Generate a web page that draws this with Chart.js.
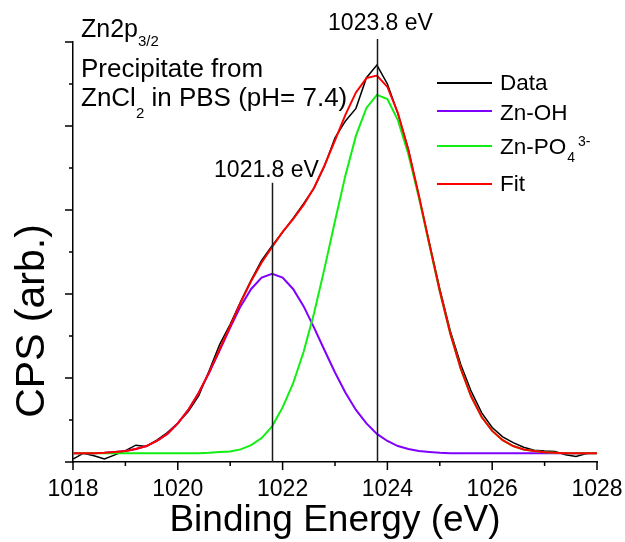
<!DOCTYPE html>
<html>
<head>
<meta charset="utf-8">
<script src="https://cdn.jsdelivr.net/npm/chart.js@4.4.0/dist/chart.umd.min.js"></script>
<style>
	html, body { margin: 0; padding: 0; background: #ffffff; }
	#wrap { position: relative; width: 625px; height: 542px; }
</style>
</head>
<body>
<div id="wrap"><canvas id="chart_xps"></canvas></div>
<script>
//Binding energy grid (eV)
const energy = [
	1018.0, 1018.2, 1018.4, 1018.6, 1018.8,
	1019.0, 1019.2, 1019.4, 1019.6, 1019.8,
	1020.0, 1020.2, 1020.4, 1020.6, 1020.8,
	1021.0, 1021.2, 1021.4, 1021.6, 1021.8,
	1022.0, 1022.2, 1022.4, 1022.6, 1022.8,
	1023.0, 1023.2, 1023.4, 1023.6, 1023.8,
	1024.0, 1024.2, 1024.4, 1024.6, 1024.8,
	1025.0, 1025.2, 1025.4, 1025.6, 1025.8,
	1026.0, 1026.2, 1026.4, 1026.6, 1026.8,
	1027.0, 1027.2, 1027.4, 1027.6, 1027.8,
	1028.0
];

//Measured counts (arb.)
const dataCps = [
	0.07, 0.21, 0.15, 0.07, 0.17,
	0.27, 0.40, 0.37, 0.52, 0.70,
	0.93, 1.20, 1.58, 2.18, 2.80,
	3.28, 3.82, 4.33, 4.80, 5.15,
	5.47, 5.80, 6.15, 6.52, 7.05,
	7.72, 8.12, 8.42, 9.15, 9.45,
	9.00, 8.30, 7.45, 6.33, 5.22,
	4.12, 3.12, 2.32, 1.68, 1.17,
	0.82, 0.60, 0.46, 0.35, 0.28,
	0.26, 0.25, 0.17, 0.13, 0.20,
	0.22
];

//Zn-OH component
const znOH = [
	0.21, 0.21, 0.21, 0.22, 0.24,
	0.26, 0.31, 0.38, 0.50, 0.67,
	0.92, 1.24, 1.65, 2.13, 2.66,
	3.20, 3.71, 4.12, 4.39, 4.48,
	4.39, 4.12, 3.71, 3.20, 2.66,
	2.13, 1.65, 1.24, 0.92, 0.67,
	0.50, 0.38, 0.31, 0.26, 0.24,
	0.22, 0.21, 0.21, 0.21, 0.21,
	0.21, 0.21, 0.21, 0.21, 0.21,
	0.21, 0.21, 0.21, 0.21, 0.21,
	0.21
];

//Zn-PO4 component
const znPO4 = [
	0.21, 0.21, 0.21, 0.21, 0.21,
	0.21, 0.21, 0.21, 0.21, 0.21,
	0.21, 0.21, 0.21, 0.22, 0.24,
	0.25, 0.30, 0.40, 0.57, 0.85,
	1.30, 1.87, 2.62, 3.54, 4.61,
	5.74, 6.83, 7.77, 8.43, 8.74,
	8.64, 8.14, 7.33, 6.30, 5.17,
	4.06, 3.06, 2.22, 1.56, 1.07,
	0.74, 0.52, 0.38, 0.30, 0.26,
	0.23, 0.22, 0.21, 0.21, 0.21,
	0.21
];

//Envelope fit
const fitCps = [
	0.21, 0.21, 0.21, 0.22, 0.24,
	0.26, 0.31, 0.38, 0.50, 0.67,
	0.92, 1.24, 1.65, 2.14, 2.69,
	3.24, 3.80, 4.31, 4.75, 5.12,
	5.48, 5.78, 6.12, 6.53, 7.06,
	7.66, 8.27, 8.80, 9.14, 9.20,
	8.93, 8.31, 7.43, 6.35, 5.20,
	4.07, 3.06, 2.22, 1.56, 1.07,
	0.74, 0.52, 0.38, 0.30, 0.26,
	0.23, 0.22, 0.21, 0.21, 0.21,
	0.21
];

//Axis ticks
const xTickValues = [1018, 1019, 1020, 1021, 1022, 1023, 1024, 1025, 1026, 1027, 1028];
const yTickValues = [0, 1, 2, 3, 4, 5, 6, 7, 8, 9, 10];

//Peak markers
const markerEnergy = [1021.8, 1023.8];
const markerTop = [6.65, 10.07];
const markerLabels = ['1021.8 eV', '1023.8 eV'];

const FONT = "'Liberation Sans', Arial, sans-serif";

function toPoints(values) {
	return values.map((v, i) => ({ x: energy[i], y: v }));
}

function setFont(ctx, size) {
	ctx.font = size + 'px ' + FONT;
}

//Draw a run of text pieces (for sub/superscripts)
function drawRich(ctx, parts, x, y) {
	let cx = x;
	for (const p of parts) {
		setFont(ctx, p.size);
		ctx.fillText(p.text, cx, y + (p.dy || 0));
		cx += ctx.measureText(p.text).width;
	}
	return cx;
}

const decor = {
	id: 'decor',
	afterDatasetsDraw(chart) {
		const ctx = chart.ctx;
		const xs = chart.scales.x;
		const ys = chart.scales.y;
		ctx.save();
		ctx.strokeStyle = '#1a1a1a';
		ctx.lineWidth = 1.5;
		ctx.fillStyle = '#000000';
		ctx.textAlign = 'center';
		ctx.textBaseline = 'alphabetic';
		setFont(ctx, 23);
		const labelShift = [[-6, -6], [3, -9]];
		for (let i = 0; i < markerEnergy.length; i++) {
			const px = Math.round(xs.getPixelForValue(markerEnergy[i])) + 0.5;
			const top = ys.getPixelForValue(markerTop[i]);
			ctx.beginPath();
			ctx.moveTo(px, top);
			ctx.lineTo(px, ys.getPixelForValue(0));
			ctx.stroke();
			ctx.fillText(markerLabels[i], px + labelShift[i][0], top + labelShift[i][1]);
		}
		ctx.restore();
	},
	afterDraw(chart) {
		const ctx = chart.ctx;
		const xs = chart.scales.x;
		const ys = chart.scales.y;
		const area = chart.chartArea;
		ctx.save();

		//Tick marks, long on even values
		ctx.strokeStyle = '#000000';
		ctx.lineWidth = 1.5;
		ctx.beginPath();
		for (const v of xTickValues) {
			const px = xs.getPixelForValue(v);
			const len = v % 2 === 0 ? 8 : 4;
			ctx.moveTo(px, area.bottom);
			ctx.lineTo(px, area.bottom + len);
		}
		for (const v of yTickValues) {
			const py = ys.getPixelForValue(v);
			const len = v % 2 === 0 ? 8 : 4;
			ctx.moveTo(area.left, py);
			ctx.lineTo(area.left - len, py);
		}
		ctx.stroke();

		ctx.fillStyle = '#000000';
		ctx.textAlign = 'left';
		ctx.textBaseline = 'alphabetic';

		//Sample description
		drawRich(ctx, [{ text: 'Zn2p', size: 25 }, { text: '3/2', size: 15, dy: 9 }], 81, 37);
		drawRich(ctx, [{ text: 'Precipitate from', size: 26 }], 81, 77);
		drawRich(ctx, [{ text: 'ZnCl', size: 26 }, { text: '2', size: 15, dy: 12 }, { text: ' in PBS (pH= 7.4)', size: 26 }], 81, 106);

		//Legend
		const legendRows = [
			{ y: 83, base: 90, parts: [{ text: 'Data', size: 22.5 }] },
			{ y: 111, base: 120, parts: [{ text: 'Zn-OH', size: 22.5 }] },
			{ y: 146, base: 154, parts: [{ text: 'Zn-PO', size: 22.5 }], sub: '4', sup: '3-' },
			{ y: 184, base: 191, parts: [{ text: 'Fit', size: 22.5 }] }
		];
		chart.data.datasets.forEach((ds, i) => {
			const row = legendRows[i];
			ctx.strokeStyle = ds.borderColor;
			ctx.lineWidth = 2;
			ctx.beginPath();
			ctx.moveTo(437, row.y);
			ctx.lineTo(492, row.y);
			ctx.stroke();
			const end = drawRich(ctx, row.parts, 500, row.base);
			if (row.sub) {
				setFont(ctx, 14);
				ctx.fillText(row.sub, end + 1, row.base + 8);
				const w = ctx.measureText(row.sub).width;
				ctx.fillText(row.sup, end + w + 4, row.base - 8);
			}
		});

		//Axis titles
		setFont(ctx, 37);
		ctx.textAlign = 'center';
		ctx.fillText('Binding Energy (eV)', (area.left + area.right) / 2, 531);
		setFont(ctx, 41);
		ctx.translate(44, 321);
		ctx.rotate(-Math.PI / 2);
		ctx.fillText('CPS (arb.)', 0, 0);
		ctx.restore();
	}
};

const chart_xps = new Chart(document.getElementById('chart_xps'), {
	type: 'line',
	data: {
		datasets: [
			{ label: 'Data', data: toPoints(dataCps), borderColor: '#000000', borderWidth: 1.5, order: 3 },
			{ label: 'Zn-OH', data: toPoints(znOH), borderColor: '#8000ff', borderWidth: 2, order: 2 },
			{ label: 'Zn-PO4 3-', data: toPoints(znPO4), borderColor: '#11ee11', borderWidth: 2, order: 1 },
			{ label: 'Fit', data: toPoints(fitCps), borderColor: '#ff0000', borderWidth: 2, order: 0 }
		]
	},
	options: {
		responsive: true,
		maintainAspectRatio: false,
		animation: false,
		layout: { padding: { top: 42, right: 28, left: 0, bottom: 0 } },
		elements: {
			point: { radius: 0 },
			line: { tension: 0, fill: false }
		},
		plugins: {
			legend: { display: false },
			tooltip: { enabled: false }
		},
		scales: {
			x: {
				type: 'linear',
				min: 1018,
				max: 1028,
				afterFit: (s) => {
					s.height = 80;
					s.paddingLeft = 0;
					s.paddingRight = 0;
				},
				ticks: {
					stepSize: 2,
					padding: 14,
					color: '#000000',
					maxRotation: 0,
					autoSkip: false,
					font: { family: FONT, size: 23 },
					callback: (v) => String(v)
				},
				grid: { display: false, drawTicks: false },
				border: { display: true, color: '#000000', width: 1.5 }
			},
			y: {
				min: 0,
				max: 10,
				afterFit: (s) => {
					s.width = 73;
					s.paddingTop = 0;
					s.paddingBottom = 0;
				},
				ticks: { display: false, stepSize: 1 },
				grid: { display: false, drawTicks: false },
				border: { display: true, color: '#000000', width: 1.5 }
			}
		}
	},
	plugins: [decor]
});
</script>
</body>
</html>
